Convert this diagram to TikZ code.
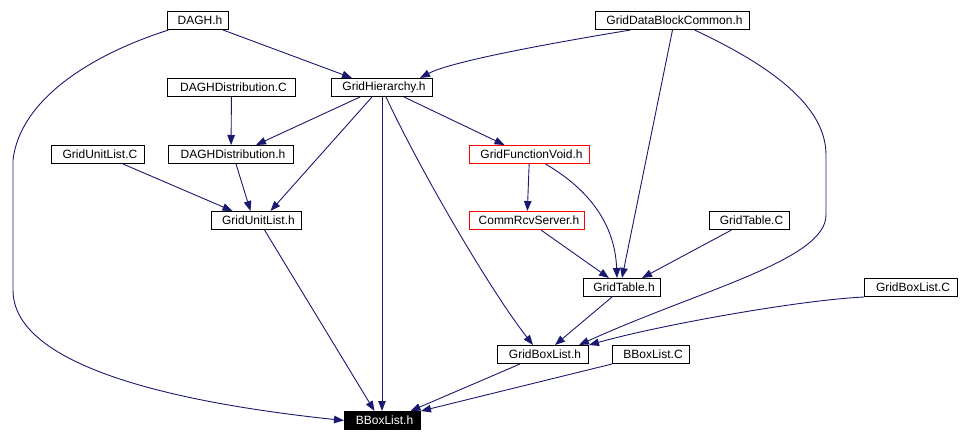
\documentclass[tikz,border=0pt]{standalone}
\usepackage{fontspec}
\setmainfont{Liberation Sans}
\usetikzlibrary{arrows.meta}
\definecolor{depBlue}{HTML}{191970}
\definecolor{missRed}{HTML}{FF0000}
\tikzset{
  filebox/.style={draw=black, line width=1pt, fill=white, inner sep=0pt,
                  minimum height=18pt, font=\fontsize{12}{14}\selectfont,
                  execute at begin node=\hspace{4pt}},
  missbox/.style={filebox, draw=missRed},
  rootbox/.style={filebox, fill=black, text=white},
  dep/.style={draw=depBlue, line width=0.9pt, -{Triangle[length=10pt, width=7.5pt]}},
}
\begin{document}
\begin{tikzpicture}[x=1pt, y=-1pt]
\useasboundingbox (0,0) rectangle (960,442);
\node[filebox, minimum width=61pt]  (dagh) at (198,20.5) {DAGH.h};
\node[filebox, minimum width=154pt] (gdbc) at (672.5,20.5) {GridDataBlockCommon.h};
\node[filebox, minimum width=128pt] (ddc)  at (231.5,87.5) {DAGHDistribution.C};
\node[filebox, minimum width=101pt] (gh)   at (382,87.5) {GridHierarchy.h};
\node[filebox, minimum width=93pt]  (guc)  at (98,154.5) {GridUnitList.C};
\node[filebox, minimum width=125pt] (ddh)  at (231,154.5) {DAGHDistribution.h};
\node[missbox, minimum width=120pt] (gfv)  at (529.5,154.5) {GridFunctionVoid.h};
\node[filebox, minimum width=90pt]  (gul)  at (256.5,220.5) {GridUnitList.h};
\node[missbox, minimum width=115pt] (crs)  at (527,220.5) {CommRcvServer.h};
\node[filebox, minimum width=80pt]  (gtc)  at (749.5,220.5) {GridTable.C};
\node[filebox, minimum width=77pt]  (gth)  at (622,287.5) {GridTable.h};
\node[filebox, minimum width=93pt]  (gbc)  at (911,287.5) {GridBoxList.C};
\node[filebox, minimum width=91pt]  (gbh)  at (543,354.5) {GridBoxList.h};
\node[filebox, minimum width=77pt]  (bbc)  at (651,354.5) {BBoxList.C};
\node[rootbox, minimum width=76pt]  (bbh)  at (382.5,420.5) {BBoxList.h};

\draw[dep] ([xshift=-29.5pt]dagh.south) .. controls (90,55) and (20,100) .. (13,160)
  -- (13,290) .. controls (13,360) and (150,400) .. (bbh.west);
\draw[dep] ([xshift=25pt]dagh.south) -- ([xshift=-30pt]gh.north);
\draw[dep] ([xshift=-42pt]gdbc.south) .. controls (540,45) and (450,62) .. ([xshift=38pt]gh.north);
\draw[dep] (gdbc.south) -- (gth.north);
\draw[dep] ([xshift=22pt]gdbc.south) .. controls (780,70) and (826,110) .. (826,155)
  -- (826,215) .. controls (826,260) and (700,290) .. ([xshift=36pt]gbh.north);
\draw[dep] (ddc) -- (ddh);
\draw[dep] ([xshift=-22pt]gh.south) -- ([xshift=25pt]ddh.north);
\draw[dep] ([xshift=-10pt]gh.south) -- ([xshift=14pt]gul.north);
\draw[dep] (gh.south) -- ([xshift=-0.5pt]bbh.north);
\draw[dep] ([xshift=4pt]gh.south) .. controls (420,170) and (490,290) .. ([xshift=-10pt]gbh.north);
\draw[dep] ([xshift=22pt]gh.south) -- ([xshift=-25pt]gfv.north);
\draw[dep] ([xshift=25pt]guc.south) -- ([xshift=-24pt]gul.north);
\draw[dep] ([xshift=5pt]ddh.south) -- ([xshift=-6pt]gul.north);
\draw[dep] ([xshift=8pt]gul.south) -- ([xshift=-8pt]bbh.north);
\draw[dep] (gfv) -- (crs);
\draw[dep] ([xshift=16pt]gfv.south) .. controls (590,190) and (615,225) .. ([xshift=-5pt]gth.north);
\draw[dep] ([xshift=14pt]crs.south) -- ([xshift=-13pt]gth.north);
\draw[dep] ([xshift=-18pt]gtc.south) -- ([xshift=20pt]gth.north);
\draw[dep] ([xshift=-10pt]gth.south) -- ([xshift=12pt]gbh.north);
\draw[dep] (gbc.south west) .. controls (800,300) and (660,325) .. (gbh.north east);
\draw[dep] ([xshift=-23pt]gbh.south) -- ([xshift=28pt]bbh.north);
\draw[dep] (bbc.south west) -- (bbh.north east);
\end{tikzpicture}
\end{document}
